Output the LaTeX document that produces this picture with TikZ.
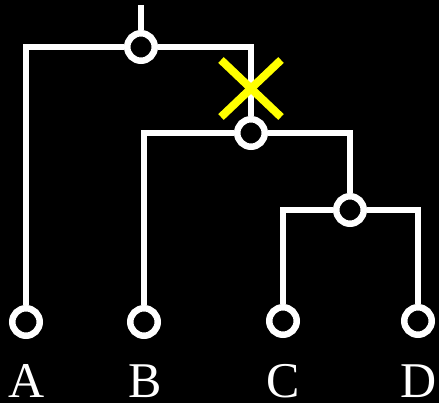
\documentclass[tikz,border=0pt]{standalone}
\usepackage{fontspec}
\setmainfont{Liberation Serif}
\begin{document}
\begin{tikzpicture}[x=1pt,y=-1pt,
  wire/.style={draw=white,line width=6.5pt},
  knot/.style={circle,draw=white,fill=black,line width=6.5pt,minimum size=27.5pt,inner sep=0pt},
  leaflabel/.style={text=white,anchor=base,font=\fontsize{50}{60}\selectfont,inner sep=0pt},
  cross/.style={draw={rgb,255:red,255;green,255;blue,0},line width=8pt}]
\fill[black] (0,0) rectangle (439,403);
\useasboundingbox (0,0) rectangle (439,403);
% nodes
\node[knot] (root) at (141,47) {};
\node[knot] (n2) at (251,133) {};
\node[knot] (n3) at (350,210) {};
\node[knot] (A) at (26,322) {};
\node[knot] (B) at (144,322) {};
\node[knot] (C) at (283,321) {};
\node[knot] (D) at (418,321) {};
\coordinate (top) at (141,5);
% connectors
\draw[wire] (top) -- (root);
\draw[wire,line join=miter] (A) |- (root);
\draw[wire,line join=miter] (root) -| (n2);
\draw[wire,line join=miter] (B) |- (n2);
\draw[wire,line join=miter] (n2) -| (n3);
\draw[wire,line join=miter] (C) |- (n3);
\draw[wire,line join=miter] (n3) -| (D);
% cut mark
\coordinate (xc) at (251,88.5);
\draw[cross] ([shift={(-30,-28.5)}]xc) -- ([shift={(30,28.5)}]xc);
\draw[cross] ([shift={(-30,28.5)}]xc) -- ([shift={(30,-28.5)}]xc);
% labels
\node[leaflabel] (lA) at (27,397) {A};
\node[leaflabel] (lB) at (145,397) {B};
\node[leaflabel] (lC) at (283,397) {C};
\node[leaflabel] (lD) at (419,397) {D};
\end{tikzpicture}
\end{document}
